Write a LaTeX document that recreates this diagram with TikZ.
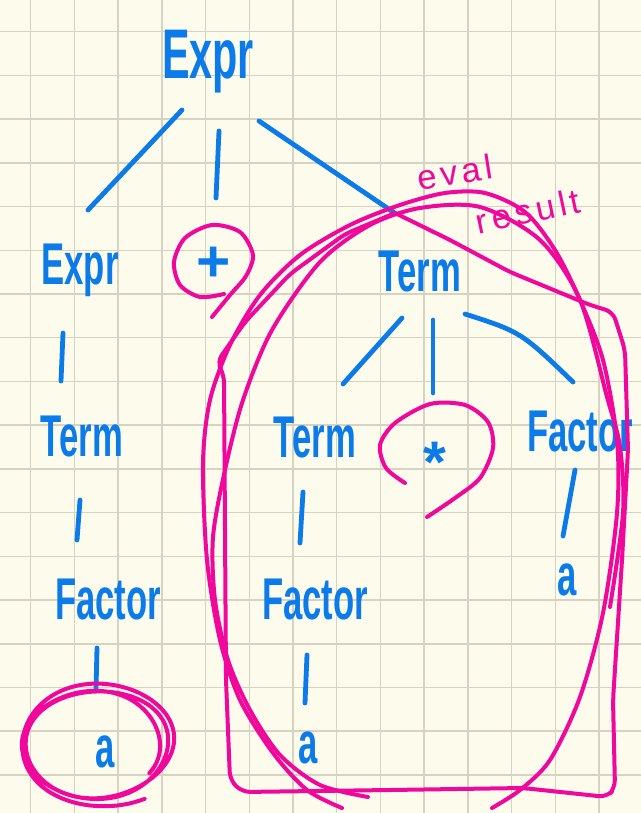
\documentclass[tikz,border=0pt]{standalone}
\usepackage{fontspec}
\setmainfont{Liberation Sans}
\usetikzlibrary{calc}
\definecolor{paper}{HTML}{FDFBEC}
\definecolor{gridc}{HTML}{D6D3C3}
\definecolor{inkblue}{HTML}{0B7BEA}
\definecolor{inkpink}{HTML}{F0089C}
\newcommand{\tallword}[1]{\scalebox{1}[1.7]{#1}}

\begin{document}
\begin{tikzpicture}[x=0.75pt,y=-0.75pt,
  lbl/.style={text=inkblue, inner sep=0pt, font=\fontsize{26}{28}\selectfont\bfseries},
  bigl/.style={lbl, font=\fontsize{31}{33}\selectfont\bfseries},
  symb/.style={lbl, font=\fontsize{44}{44}\selectfont\bfseries},
  edge/.style={draw=inkblue, line width=3.6pt, line cap=round, line join=round},
  loopink/.style={draw=inkpink, line width=3pt, line cap=round, line join=round},
  note/.style={text=inkpink, inner sep=0pt, font=\fontsize{26}{28}\selectfont\addfontfeature{LetterSpace=12}},
  gridline/.style={draw=gridc, line width=1.1pt}]
\useasboundingbox (0,0) rectangle (641,813);
\clip (0,0) rectangle (641,813);

% squared paper
\fill[paper] (0,0) rectangle (641,813);
\foreach \i in {0,...,14} \draw[gridline] ({30.7+43.72*\i},0) -- ++(0,813);
\foreach \j in {0,...,17} \draw[gridline] (0,{31.7+43.72*\j}) -- ++(641,0);

% parse tree labels
\node[bigl] (e0) at (208,62) {\scalebox{1}[1.7]{Expr}};
\node[lbl] (e1) at (80,270) {\tallword{Expr}};
\node[symb] (plus) at (214,264) {+};
\node[lbl] (t0) at (420,272) {\tallword{Term}};
\node[lbl] (t1) at (82,437) {\tallword{Term}};
\node[lbl] (t2) at (315,438) {\tallword{Term}};
\node[symb] (star) at (435,462) {*};
\node[lbl] (f0) at (580,432) {\tallword{Factor}};
\node[lbl] (f1) at (108,600) {\tallword{Factor}};
\node[lbl] (f2) at (315,600) {\tallword{Factor}};
\node[lbl] (a0) at (567,580) {\tallword{a}};
\node[lbl] (a1) at (105,752) {\tallword{a}};
\node[lbl] (a2) at (308,748) {\tallword{a}};

% tree edges
\draw[edge] ($(e0)+(-26,48)$) -- ($(e1)+(8,-60)$);
\draw[edge] ($(e0)+(11,69)$) -- ($(plus)+(2,-66)$);
\draw[edge] ($(e0)+(51,59)$) -- ($(t0)+(-24,-58)$);
\draw[edge] ($(e1)+(-17,63)$) -- ($(t1)+(-21,-56)$);
\draw[edge] ($(t1)+(-2,63)$) -- ($(f1)+(-31,-60)$);
\draw[edge] ($(f1)+(-11,48)$) -- ($(a1)+(-9,-62)$);
\draw[edge] ($(t0)+(-18,46)$) -- ($(t2)+(28,-54)$);
\draw[edge] ($(t0)+(13,48)$) -- ($(star)+(-2,-69)$);
\draw[edge] ($(t0)+(45,42)$) .. controls ($(t0)+(101,60)$) .. ($(f0)+(-7,-50)$);
\draw[edge] ($(t2)+(-12,54)$) -- ($(f2)+(-15,-57)$);
\draw[edge] ($(f2)+(-8,55)$) -- ($(a2)+(-3,-45)$);
\draw[edge] ($(f0)+(-5,38)$) -- ($(a0)+(-4,-44)$);

% circled terminals
\draw[loopink] plot[smooth] coordinates {(224,294) (200,297) (180,285) (174,262)
  (185,238) (212,225) (240,232) (253,255) (246,276) (230,295) (212,317)};
\draw[loopink] plot[smooth] coordinates {(405,483) (386,468) (380,445) (395,423)
  (430,404) (465,405) (488,422) (493,448) (480,478) (455,498) (427,517)};
\draw[loopink] plot[smooth, domain=60:1120, samples=110, variable=\t]
  ({97 + 5*sin(0.7*\t) + (86-0.022*\t+4*sin(1.3*\t))*cos(\t)},
   {744 + 3*cos(0.5*\t) + (61-0.01*\t)*sin(\t)});

% loops around the evaluated subtree
\draw[loopink, rounded corners=6pt] (395,213) -- (345,234) -- (290,274) -- (245,322)
  -- (217,362) -- (224,375) -- (225,530) -- (226,680) -- (230,780) -- (242,792)
  -- (390,790) -- (523,788) -- (607,797) -- (615,788) -- (613,700) -- (622,560)
  -- (628,450) -- (625,350) -- (613,312) -- (590,305) -- (510,272) -- (450,240) -- (395,213);
\draw[loopink] plot[smooth] coordinates {(342,808) (307,790) (273,753) (240,700)
  (220,640) (207,560) (203,463) (210,400) (230,345) (260,295) (300,255) (350,225)
  (400,205) (445,193) (485,193) (525,212) (555,250) (580,300) (603,360) (617,440)
  (617,513) (603,613) (580,697) (550,760) (520,790) (492,808)};
\draw[loopink] plot[smooth] coordinates {(368,797) (320,785) (280,755) (250,710)
  (228,660) (215,600) (213,537) (225,470) (243,400) (272,330) (320,262) (370,225)
  (420,208) (480,207) (540,240) (580,300) (607,397) (620,447) (623,513) (610,607)};

% annotation
\node[note, rotate=9] (ev) at (455,172) {eval};
\node[note, rotate=12] (res) at (528,211) {result};
\end{tikzpicture}
\end{document}
